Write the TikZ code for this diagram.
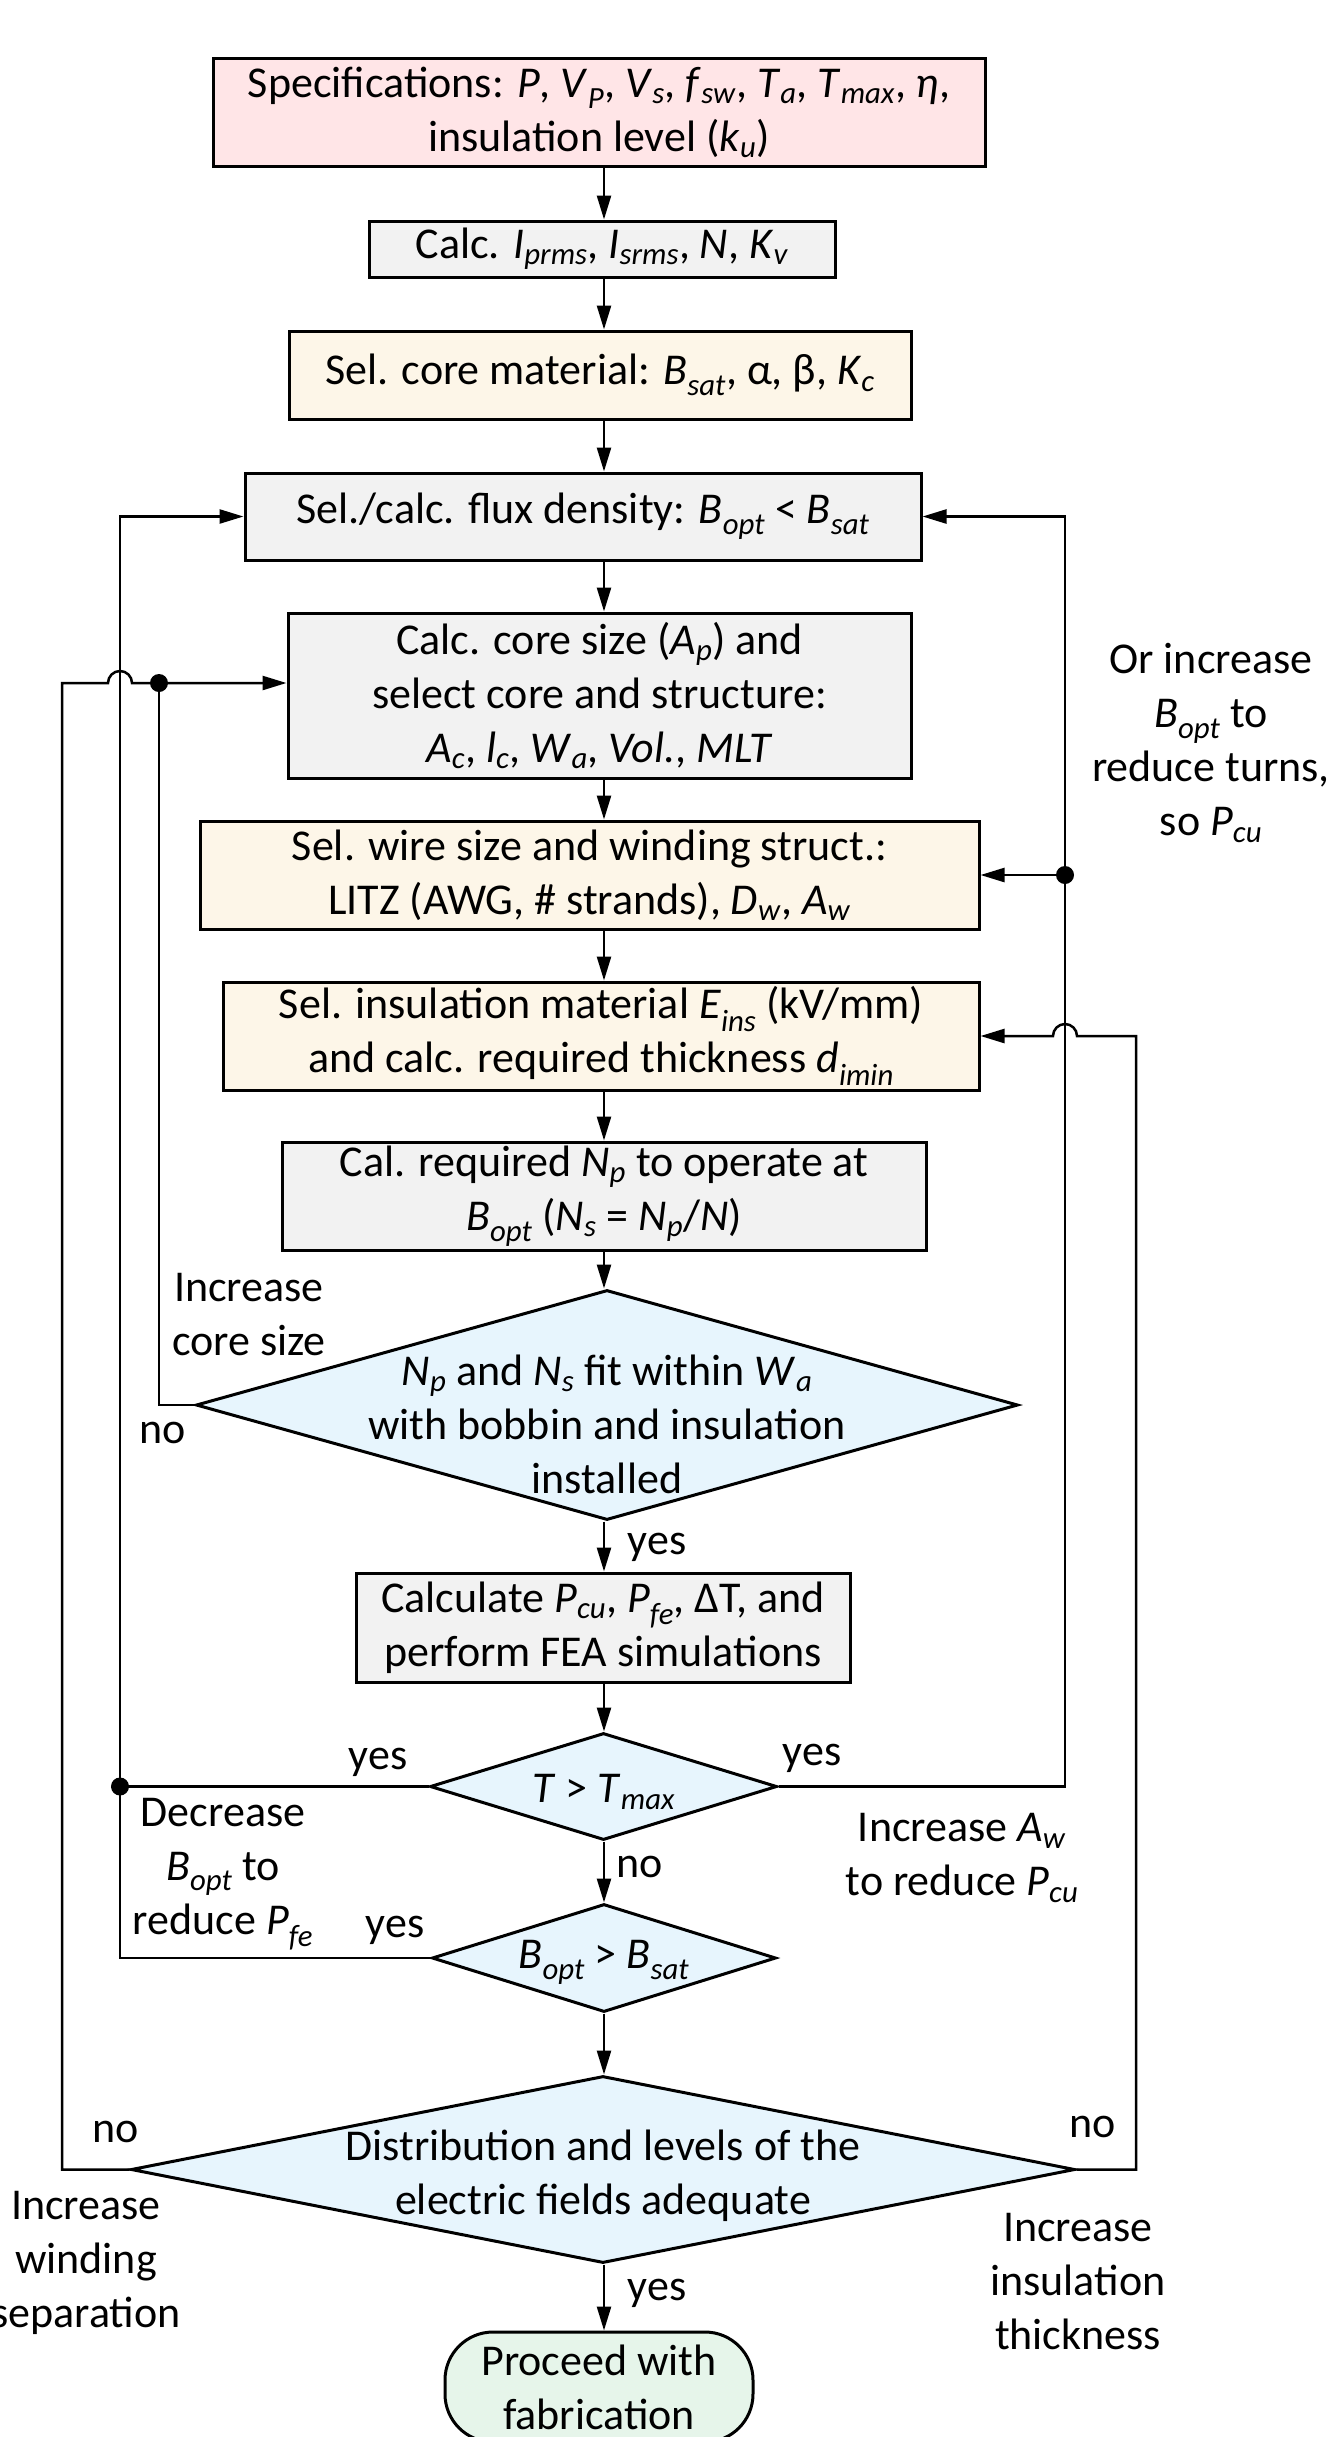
\documentclass[tikz,border=0pt]{standalone}
\usepackage{fontspec}
\setmainfont{Carlito}
\usetikzlibrary{arrows.meta,shapes.geometric}
\newcommand\vi[2]{\textit{#1}\textsubscript{\textit{#2}}}
\definecolor{pinkf}{HTML}{FFE5E7}
\definecolor{creamf}{HTML}{FDF6E8}
\definecolor{grayf}{HTML}{F2F2F2}
\definecolor{bluef}{HTML}{E7F5FD}
\definecolor{greenf}{HTML}{E6F5EA}
\begin{document}
\begin{tikzpicture}[x=1pt,y=-1pt,font=\fontsize{44}{54}\selectfont,
  box/.style={draw,line width=3pt,rectangle,inner sep=0pt,align=center},
  diam/.style={draw,line width=3pt,diamond,inner sep=0pt,fill=bluef},
  term/.style={draw,line width=3pt,rectangle,rounded corners=48pt,inner sep=0pt,align=center,fill=greenf},
  conn/.style={line width=2.5pt},
  arr/.style={conn,-{Triangle[length=24pt,width=14pt]}},
  lbl/.style={align=center,inner sep=0pt},
  dot/.style={fill=black}]
\useasboundingbox (0,0) rectangle (1340,2437);
% bus coordinates
\coordinate (col) at (604,0);
\coordinate (xa) at (62,0);
\coordinate (xb) at (120,0);
\coordinate (xc) at (159,0);
\coordinate (xd) at (1065,0);
\coordinate (xe) at (1136,0);
\coordinate (h5) at (0,683);
% boxes
\node[box,fill=pinkf,minimum width=772pt,minimum height=108pt] (b1) at (599,112)
  {Specifications: \textit{P}, \vi{V}{P}, \vi{V}{s}, \vi{f}{sw}, \vi{T}{a}, \vi{T}{max}, \textit{η},\\ insulation level (\vi{k}{u})};
\node[box,fill=grayf,minimum width=466pt,minimum height=56pt] (b2) at (602,249)
  {Calc. \vi{I}{prms}, \vi{I}{srms}, \textit{N}, \vi{K}{v}};
\node[box,fill=creamf,minimum width=622pt,minimum height=88pt] (b3) at (600,375)
  {Sel. core material: \vi{B}{sat}, α, β, \vi{K}{c}};
\node[box,fill=grayf,minimum width=676pt,minimum height=87pt] (b4) at (583,516.5)
  {Sel./calc. flux density: \vi{B}{opt} < \vi{B}{sat}};
\node[box,fill=grayf,minimum width=623pt,minimum height=165pt] (b5) at (599.5,695.5)
  {Calc. core size (\vi{A}{p}) and\\ select core and structure:\\ \vi{A}{c}, \vi{l}{c}, \vi{W}{a}, \textit{Vol.}, \textit{MLT}};
\node[box,fill=creamf,minimum width=779pt,minimum height=108pt] (b6) at (589.5,875)
  {Sel. wire size and winding struct.:\\ LITZ (AWG, \# strands), \vi{D}{w}, \vi{A}{w}};
\node[box,fill=creamf,minimum width=756pt,minimum height=108pt] (b7) at (601,1036)
  {Sel. insulation material \vi{E}{ins} (kV/mm)\\ and calc. required thickness \vi{d}{imin}};
\node[box,fill=grayf,minimum width=644pt,minimum height=108pt] (b8) at (604,1196)
  {Cal. required \vi{N}{p} to operate at\\ \vi{B}{opt} (\vi{N}{s} = \vi{N}{p}/\textit{N})};
\node[diam,minimum width=822pt,minimum height=230pt] (d1) at (607,1405) {};
\node[lbl] (d1t) at (607,1424) {\vi{N}{p} and \vi{N}{s} fit within \vi{W}{a}\\ with bobbin and insulation\\ installed};
\node[box,fill=grayf,minimum width=494pt,minimum height=109pt] (b9) at (603,1627.5)
  {Calculate \vi{P}{cu}, \vi{P}{fe}, ΔT, and\\ perform FEA simulations};
\node[diam,minimum width=347pt,minimum height=107pt] (d2) at (603.5,1786.5) {};
\node[lbl] (d2t) at (604,1792) {\textit{T} > \vi{T}{max}};
\node[diam,minimum width=344pt,minimum height=108pt] (d3) at (604,1958) {};
\node[lbl] (d3t) at (604,1962) {\vi{B}{opt} > \vi{B}{sat}};
\node[diam,minimum width=944pt,minimum height=187pt] (d4) at (603,2169.5) {};
\node[lbl] (d4t) at (603,2176) {Distribution and levels of the\\ electric fields adequate};
\node[term,minimum width=308pt,minimum height=110pt] (t) at (599,2387) {Proceed with\\ fabrication};
% main column arrows
\draw[arr] (b1.south -| col) -- (b2.north -| col);
\draw[arr] (b2.south -| col) -- (b3.north -| col);
\draw[arr] (b3.south -| col) -- (b4.north -| col);
\draw[arr] (b4.south -| col) -- (b5.north -| col);
\draw[arr] (b5.south -| col) -- (b6.north -| col);
\draw[arr] (b6.south -| col) -- (b7.north -| col);
\draw[arr] (b7.south -| col) -- (b8.north -| col);
\draw[arr] (b8.south -| col) -- (d1.north -| col);
\draw[arr] (d1.south -| col) -- (b9.north -| col);
\draw[arr] (b9.south -| col) -- (d2.north -| col);
\draw[arr] (d2.south -| col) -- (d3.north -| col);
\draw[arr] (d3.south -| col) -- (d4.north -| col);
\draw[arr] (d4.south -| col) -- (t.north -| col);
% left loops
\draw[arr] (d4.west) -- (d4.west -| xa) -- (h5 -| xa) -- ([xshift=-12pt]h5 -| xb) arc (180:0:12pt) -- (b5.west |- h5);
\draw[conn] (d1.west) -- (d1.west -| xc) -- (h5 -| xc);
\fill[dot] (h5 -| xc) circle (9pt);
\draw[arr] (d2.west) -- (d2.west -| xb) -- (b4.west -| xb) -- (b4.west);
\draw[conn] (d3.west) -- (d3.west -| xb) -- (d2.west -| xb);
\fill[dot] (d2.west -| xb) circle (9pt);
% right loops
\draw[arr] (d2.east) -- (d2.east -| xd) -- (b4.east -| xd) -- (b4.east);
\fill[dot] (b6.east -| xd) circle (9pt);
\draw[arr] (b6.east -| xd) -- (b6.east);
\draw[arr] (d4.east) -- (d4.east -| xe) -- (b7.east -| xe) -- ([xshift=12pt]b7.east -| xd) arc (0:180:12pt) -- (b7.east);
% labels
\node[lbl] (l1) at (249,1315) {Increase\\ core size};
\node[lbl] (l2) at (163,1433) {no};
\node[lbl] (l3) at (657,1547) {yes};
\node[lbl] (l4) at (378,1762) {yes};
\node[lbl] (l5) at (812,1758) {yes};
\node[lbl] (l6) at (223,1874) {Decrease\\ \vi{B}{opt} to\\ reduce \vi{P}{fe}};
\node[lbl] (l7) at (640,1867) {no};
\node[lbl] (l8) at (395,1930) {yes};
\node[lbl] (l9) at (962,1858) {Increase \vi{A}{w}\\ to reduce \vi{P}{cu}};
\node[lbl] (l10) at (1211,743) {Or increase\\ \vi{B}{opt} to\\ reduce turns,\\ so \vi{P}{cu}};
\node[lbl] (l11) at (116,2132) {no};
\node[lbl] (l12) at (1093,2127) {no};
\node[lbl] (l13) at (86,2263) {Increase\\ winding\\ separation};
\node[lbl] (l14) at (1078,2282) {Increase\\ insulation\\ thickness};
\node[lbl] (l15) at (657,2293) {yes};
\end{tikzpicture}
\end{document}
